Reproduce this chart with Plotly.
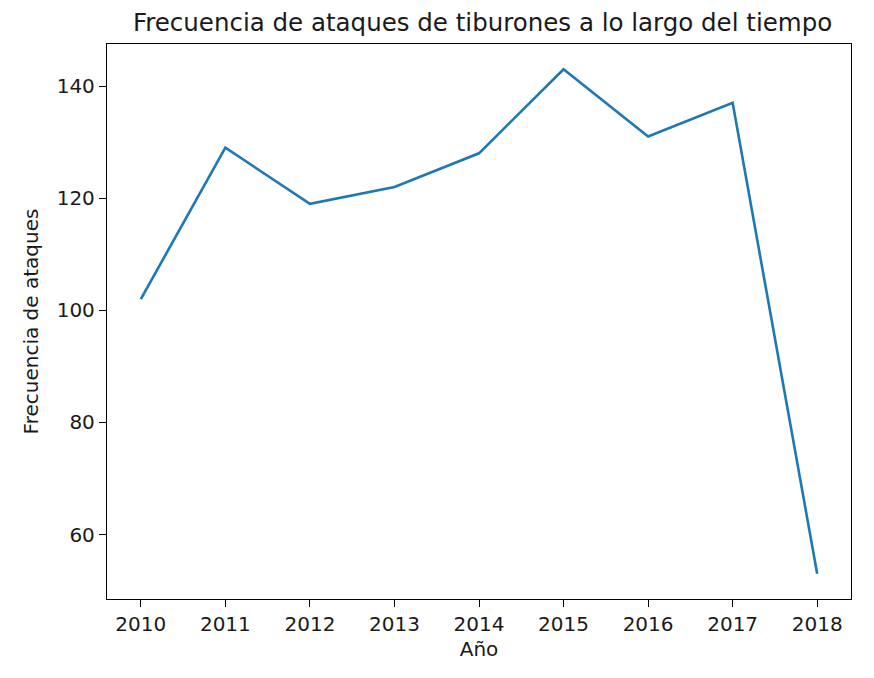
import plotly.graph_objects as go

years = [2010, 2011, 2012, 2013, 2014, 2015, 2016, 2017, 2018]
attacks = [102, 129, 119, 122, 128, 143, 131, 137, 53]
y_ticks = [60, 80, 100, 120, 140]

FONT = "DejaVu Sans"
TXT = "#1a1a1a"

fig = go.Figure()
fig.add_trace(go.Scatter(x=years, y=attacks, mode="lines",
                         line=dict(color="#1f77b4", width=2.6)))

axis_common = dict(showline=True, linecolor="black", linewidth=1.3, mirror=True,
                   ticks="outside", ticklen=7, tickwidth=1.3, tickcolor="black",
                   showgrid=False, zeroline=False,
                   tickfont=dict(family=FONT, size=20, color=TXT))

fig.update_layout(
    width=874, height=678,
    paper_bgcolor="white", plot_bgcolor="white",
    margin=dict(l=99, r=31, t=36, b=87),
    showlegend=False,
    title=dict(text="Frecuencia de ataques de tiburones a lo largo del tiempo",
               x=0.543, xanchor="center", y=0.978, yanchor="middle",
               font=dict(family=FONT, size=24.5, color=TXT)),
    xaxis=dict(range=[2009.6, 2018.4], tickvals=years,
               title=dict(text="Año", font=dict(family=FONT, size=20, color=TXT), standoff=6),
               **axis_common),
    yaxis=dict(range=[48.5, 147.5], tickvals=y_ticks,
               title=dict(text="Frecuencia de ataques", font=dict(family=FONT, size=20, color=TXT), standoff=12),
               **axis_common),
)

fig.write_html("out.html")
